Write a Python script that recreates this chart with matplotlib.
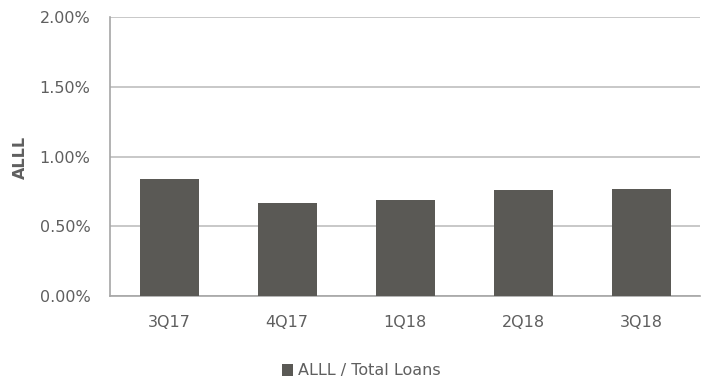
import matplotlib.pyplot as plt
import numpy as np
from matplotlib.ticker import FuncFormatter

# ALLL as a share of total loans, by quarter
quarters = ['3Q17', '4Q17', '1Q18', '2Q18', '3Q18']
alll_ratio = [0.84, 0.67, 0.69, 0.76, 0.77]   # percent
y_ticks = [0.0, 0.5, 1.0, 1.5, 2.0]

plt.rcParams['font.family'] = ['DejaVu Sans']

bar_color = '#5a5955'
text_color = '#5f5f5f'
grid_color = '#bfbfbf'

fig = plt.figure(figsize=(7.08, 3.85), dpi=100)
ax = fig.add_axes([0.1554, 0.2312, 0.8333, 0.7238])

x = np.arange(len(quarters))
ax.bar(x, alll_ratio, width=0.5, color=bar_color, label='ALLL / Total Loans', zorder=3)

ax.set_xlim(-0.5, len(quarters) - 0.5)
ax.set_ylim(0, 2.0)
ax.set_yticks(y_ticks)
ax.yaxis.set_major_formatter(FuncFormatter(lambda v, p: f'{v:.2f}%'))
ax.set_xticks(x)
ax.set_xticklabels(quarters)

ax.yaxis.grid(True, color=grid_color, linewidth=1.2, zorder=0)
ax.tick_params(axis='both', length=0, labelsize=11.5, colors=text_color)
ax.tick_params(axis='y', pad=14)
ax.tick_params(axis='x', pad=14)

for side in ['top', 'right']:
    ax.spines[side].set_visible(False)
for side in ['left', 'bottom']:
    ax.spines[side].set_color('#a6a6a6')
    ax.spines[side].set_linewidth(1.2)

fig.text(20 / 708, 1 - 157 / 385, 'ALLL', rotation=90, ha='center', va='center',
         fontsize=11.5, fontweight='bold', color=text_color)

fig.legend(loc='center', bbox_to_anchor=(361 / 708, 1 - 371 / 385), frameon=False,
           handlelength=0.7, handleheight=0.7, handletextpad=0.3,
           fontsize=11.5, labelcolor=text_color)

fig.savefig('out.png', dpi=100)
